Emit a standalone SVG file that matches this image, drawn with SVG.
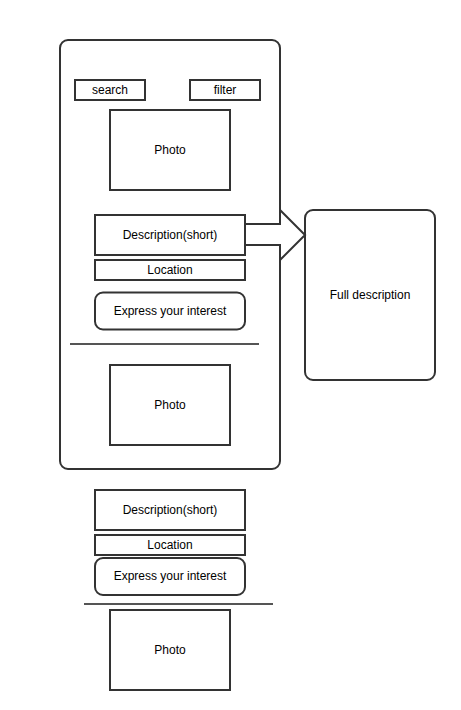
<svg xmlns="http://www.w3.org/2000/svg" width="461" height="710" viewBox="0 0 461 710">
<style>
.b{fill:#fff;stroke:#333;stroke-width:2}
.t{font-family:"Liberation Sans",Arial,sans-serif;font-size:12px;fill:#000;text-anchor:middle;dominant-baseline:central}
.sep{stroke:#555;stroke-width:2}
</style>
<rect width="461" height="710" fill="#fff"/>
<g id="phone"><rect class="b" x="60" y="40" width="220" height="429" rx="8"/></g>
<g id="search"><rect class="b" x="75" y="80" width="70" height="20"/><text class="t" x="110" y="90">search</text></g>
<g id="filter"><rect class="b" x="190" y="80" width="70" height="20"/><text class="t" x="225" y="90">filter</text></g>
<g id="photo1"><rect class="b" x="110" y="110" width="120" height="80"/><text class="t" x="170" y="150">Photo</text></g>
<g id="desc1"><rect class="b" x="95" y="215" width="150" height="40"/><text class="t" x="170" y="235">Description(short)</text></g>
<g id="loc1"><rect class="b" x="95" y="260" width="150" height="20"/><text class="t" x="170" y="270">Location</text></g>
<g id="interest1"><rect class="b" x="95" y="292.5" width="150" height="37" rx="8"/><text class="t" x="170" y="311">Express your interest</text></g>
<g id="sep1"><line class="sep" x1="70" y1="344" x2="259" y2="344"/></g>
<g id="photo2"><rect class="b" x="110" y="365" width="120" height="80"/><text class="t" x="170" y="405">Photo</text></g>
<g id="full"><rect class="b" x="305" y="210" width="130" height="170" rx="8"/><text class="t" x="370" y="295">Full description</text></g>
<g id="desc2"><rect class="b" x="95" y="490" width="150" height="40"/><text class="t" x="170" y="510">Description(short)</text></g>
<g id="loc2"><rect class="b" x="95" y="535" width="150" height="20"/><text class="t" x="170" y="545">Location</text></g>
<g id="interest2"><rect class="b" x="95" y="558" width="150" height="37" rx="8"/><text class="t" x="170" y="576">Express your interest</text></g>
<g id="sep2"><line class="sep" x1="84" y1="604" x2="273" y2="604"/></g>
<g id="photo3"><rect class="b" x="110" y="610" width="120" height="80"/><text class="t" x="170" y="650">Photo</text></g>
<g id="connectors"><polygon class="b" points="245,224 280,224 280,210 305,235 280,260 280,245 245,245"/></g>
</svg>
